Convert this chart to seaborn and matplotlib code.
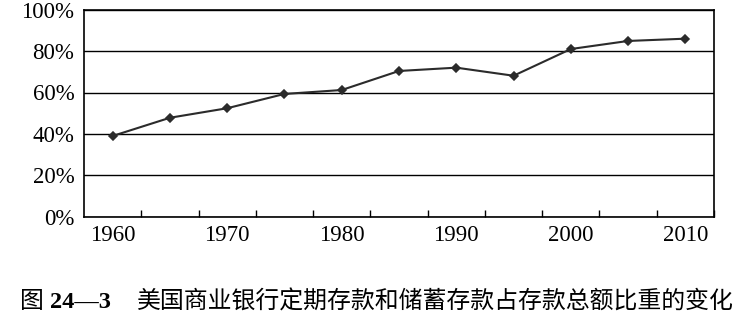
import matplotlib
matplotlib.use("Agg")
import matplotlib.pyplot as plt
import seaborn as sns
import pandas as pd
from matplotlib.ticker import FixedLocator, PercentFormatter

years = [1960, 1965, 1970, 1975, 1980, 1985, 1990, 1995, 2000, 2005, 2010]
share = [39.0, 47.8, 52.4, 59.3, 61.2, 70.4, 72.0, 68.1, 81.0, 84.9, 86.0]
xtick_labels = ["1960", "1970", "1980", "1990", "2000", "2010"]
yticks = [0, 20, 40, 60, 80, 100]
caption_prefix = "图"
caption_number = "24—3"
caption_title = "美国商业银行定期存款和储蓄存款占存款总额比重的变化"

df = pd.DataFrame({"year": [str(y) for y in years], "share": share})

sns.set_theme(style="white")
plt.rcParams['font.family'] = ['Liberation Serif', 'Noto Sans CJK SC', 'DejaVu Sans']

fig = plt.figure(figsize=(7.42, 3.26), dpi=100)
ax = fig.add_axes([84/742, 1 - 216.7/326, (714-84)/742, (216.7-9.7)/326])

sns.pointplot(data=df, x="year", y="share", ax=ax, color="#2b2b2b",
              markers="D", linestyles="-", markersize=4.5, linewidth=1.5,
              errorbar=None)

ax.set_xlim(-0.5, len(years) - 0.5)
ax.set_ylim(0, 100)
ax.set_yticks(yticks)
ax.yaxis.set_major_formatter(PercentFormatter(decimals=0))
ax.yaxis.grid(True, color="black", linewidth=1.0)
ax.set_axisbelow(True)

ax.xaxis.set_major_locator(FixedLocator(list(range(0, len(years), 2))))
ax.set_xticklabels(xtick_labels)
ax.xaxis.set_minor_locator(FixedLocator([i + 0.5 for i in range(len(years))]))
ax.tick_params(axis="x", which="major", length=0, pad=6, labelsize=16.5, colors="black")
ax.tick_params(axis="x", which="minor", length=5, direction="in", width=1, color="black", bottom=True)
ax.tick_params(axis="y", length=0, pad=7, labelsize=16.5, colors="black")

ax.set_xlabel("")
ax.set_ylabel("")
for s in ax.spines.values():
    s.set_visible(True)
    s.set_color("black")
    s.set_linewidth(1.2)

yc = 1 - 302/326
fig.text(20/742, yc, caption_prefix, fontsize=17.2, fontweight="medium",
         family=['Noto Sans CJK SC'], va="center", ha="left", color="black")
fig.text(50/742, yc, caption_number, fontsize=17.5, fontweight="bold",
         family=['Liberation Serif'], va="center", ha="left", color="black")
fig.text(137/742, yc, caption_title, fontsize=17.2, fontweight="medium",
         family=['Noto Sans CJK SC'], va="center", ha="left", color="black")

fig.savefig("out.png", dpi=100, facecolor="white")
